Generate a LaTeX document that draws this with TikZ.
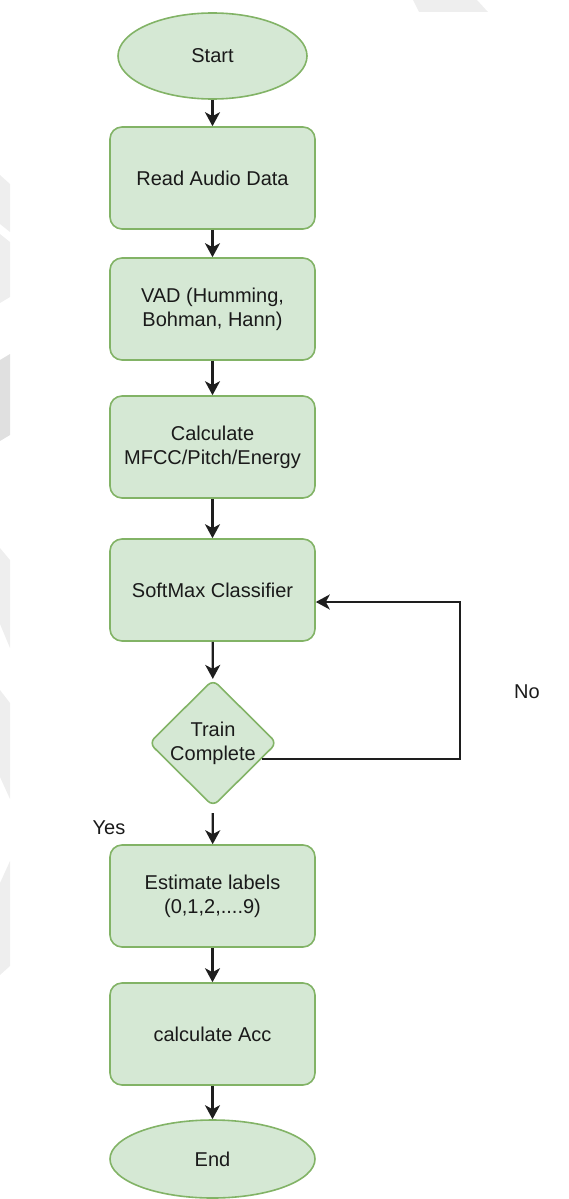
\documentclass[tikz,border=0pt]{standalone}
\usepackage{fontspec}
\setmainfont{Liberation Sans}
\usepackage{xcolor}
\usepackage{tikz}
\usetikzlibrary{arrows.meta, shapes.geometric, calc}
\definecolor{mygreen}{HTML}{82B366}
\definecolor{mygreenfill}{HTML}{D5E8D4}
\definecolor{mytext}{HTML}{1A1A1A}
\definecolor{myarrow}{HTML}{1E1E1E}
\definecolor{mymark}{HTML}{EEEEEE}
\definecolor{mymarkdark}{HTML}{E0E0E0}
\tikzset{
step box/.style={
draw=mygreen,
fill=mygreenfill,
line width=1.6pt,
rounded corners=12pt,
minimum width=205pt,
minimum height=102pt,
inner sep=0pt,
align=center,
font=\fontsize{20}{24}\selectfont,
text=mytext
},
terminal/.style={
ellipse,
draw=mygreen,
fill=mygreenfill,
line width=1.6pt,
inner sep=0pt,
font=\fontsize{20}{24}\selectfont,
text=mytext
},
decision/.style={
diamond,
draw=mygreen,
fill=mygreenfill,
line width=1.6pt,
rounded corners=7pt,
minimum width=128pt,
minimum height=127pt,
inner sep=-3pt,
align=center,
font=\fontsize{20}{24}\selectfont,
text=mytext
},
labelbox/.style={
font=\fontsize{20}{24}\selectfont,
text=mytext
},
arrow/.style={
-{Stealth[length=14pt,width=15pt,inset=4pt]},
line width=2.2pt,
draw=myarrow
}
}

\begin{document}
\begin{tikzpicture}[x=1pt, y=-1pt]
\useasboundingbox (0,0) rectangle (568,1199);

% faint marks along the edges
\fill[mymark] (0,175) -- (10,184) -- (10,232) -- (0,224) -- cycle;
\fill[mymark] (0,234) -- (10,242) -- (10,297) -- (0,303) -- cycle;
\fill[mymarkdark] (0,360) -- (10,354) -- (10,435) -- (0,441) -- cycle;
\fill[mymark] (0,548) -- (10,560) -- (10,648) -- (0,624) -- cycle;
\fill[mymark] (0,690) -- (10,703) -- (10,799) -- (0,777) -- cycle;
\fill[mymark] (0,883) -- (10,861) -- (10,966) -- (0,975) -- cycle;
\fill[mymark] (413,0) -- (477,0) -- (488,12) -- (419,12) -- cycle;

% flow
\node[terminal, minimum width=189pt, minimum height=86pt] (start) at (212.5,56) {Start};
\node[step box] (read) at (212.5,178) {Read Audio Data};
\node[step box] (vad) at (212.5,309) {VAD (Humming,\\Bohman, Hann)};
\node[step box] (calc) at (212.5,447) {Calculate\\MFCC/Pitch/Energy};
\node[step box] (soft) at (212.5,590) {SoftMax Classifier};
\node[decision] (train) at (213,743) {Train\\Complete};
\node[step box] (est) at (212.5,896) {Estimate labels\\(0,1,2,....9)};
\node[step box] (acc) at (212.5,1034) {calculate Acc};
\node[terminal, minimum width=205pt, minimum height=78pt] (end) at (212.5,1159) {End};

\draw[arrow] (start) -- (read);
\draw[arrow] (read) -- (vad);
\draw[arrow] (vad) -- (calc);
\draw[arrow] (calc) -- (soft);
\draw[arrow] (soft) -- (train);
\draw[arrow, shorten <=6pt] (train) -- (est);
\draw[arrow] (est) -- (acc);
\draw[arrow] (acc) -- (end);

% loop back
\coordinate (loopcorner) at (460,602);
\draw[arrow] (train.-18) -| (loopcorner) -- (soft.east |- loopcorner);

\node[labelbox] (no) at (527,692) {No};
\node[labelbox] (yes) at (109,828) {Yes};

\end{tikzpicture}
\end{document}
